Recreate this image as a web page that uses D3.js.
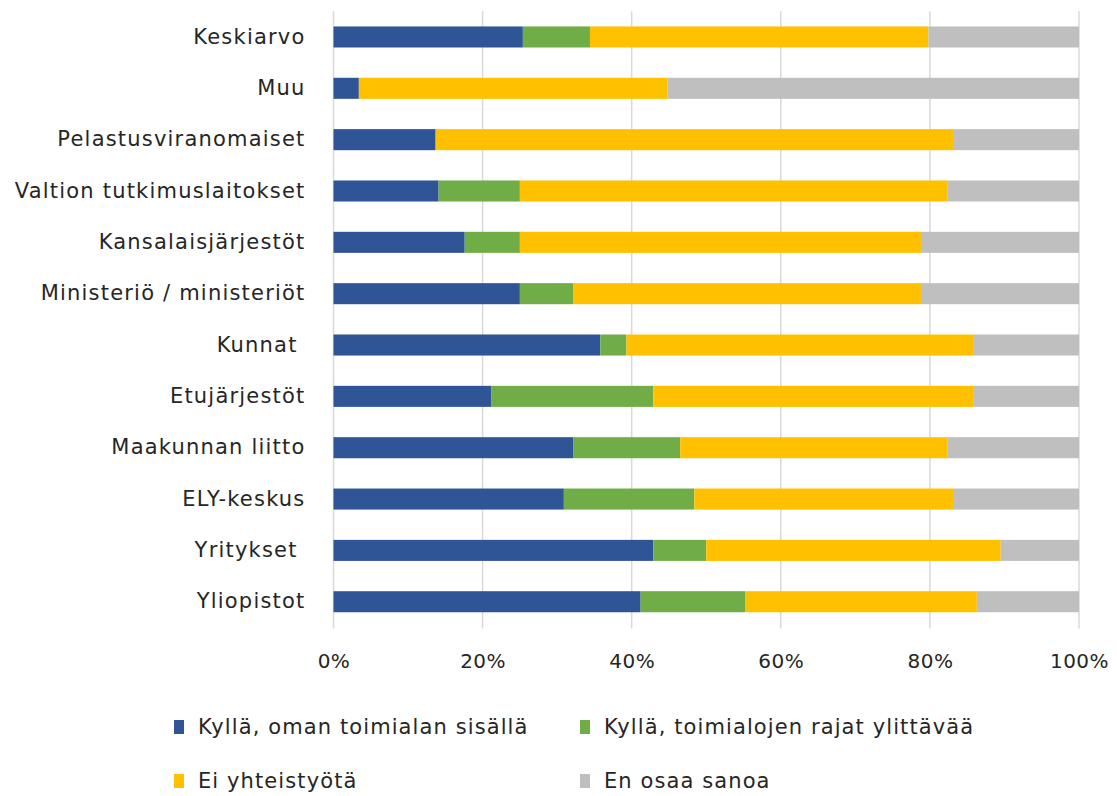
<!DOCTYPE html>
<html>
<head>
<meta charset="utf-8">
<script src="https://cdn.jsdelivr.net/npm/d3@7"></script>
<style>
body { margin: 0; background: #fff; }
text { font-family: "DejaVu Sans", sans-serif; fill: #262626; white-space: pre; }
</style>
</head>
<body>
<div id="chart"></div>
<script>
const width = 1117
const height = 796
const margin = { top: 11.3, left: 333.5, right: 38, bottom: 168.6 }

const categories = ["Keskiarvo", "Muu", "Pelastusviranomaiset", "Valtion tutkimuslaitokset", "Kansalaisjärjestöt",
    "Ministeriö / ministeriöt", "Kunnat ", "Etujärjestöt", "Maakunnan liitto", "ELY-keskus", "Yritykset ", "Yliopistot"]
const seriesNames = ["Kyllä, oman toimialan sisällä", "Kyllä, toimialojen rajat ylittävää", "Ei yhteistyötä", "En osaa sanoa"]
const colors = ["#2F5597", "#70AD47", "#FFC000", "#BFBFBF"]

// percentages per category, same order as categories
const omanSisalla = [25.4, 3.4, 13.7, 14.1, 17.6, 25.0, 35.8, 21.2, 32.2, 30.9, 42.9, 41.2]
const rajatYlittava = [9.0, 0, 0, 10.9, 7.4, 7.2, 3.5, 21.7, 14.3, 17.5, 7.1, 14.0]
const eiYhteistyota = [45.4, 41.4, 69.4, 57.4, 53.8, 46.6, 46.6, 43.0, 35.9, 34.7, 39.5, 31.1]
const enOsaa = [20.2, 55.2, 16.9, 17.6, 21.2, 21.2, 14.1, 14.1, 17.6, 16.9, 10.5, 13.7]
const xTicks = [0, 20, 40, 60, 80, 100]

const data = categories.map((c, i) => ({
    name: c,
    [seriesNames[0]]: omanSisalla[i],
    [seriesNames[1]]: rajatYlittava[i],
    [seriesNames[2]]: eiYhteistyota[i],
    [seriesNames[3]]: enOsaa[i]
}))

const svg = d3.select("div#chart").append("svg").attr("width", width).attr("height", height)

const x = d3.scaleLinear().domain([0, 100]).range([margin.left, width - margin.right])
const y = d3.scaleBand().domain(categories).range([margin.top, height - margin.bottom])
    .paddingInner(0.59).paddingOuter(0.295)

// gridlines
svg.append("g").selectAll("line").data(xTicks).join("line")
    .attr("x1", d => x(d)).attr("x2", d => x(d))
    .attr("y1", margin.top).attr("y2", height - margin.bottom + 1)
    .attr("stroke", "#d9d9d9").attr("stroke-width", 1.5)

const stack = d3.stack().keys(seriesNames)
const layers = stack(data)

svg.append("g").selectAll("g").data(layers).join("g")
    .attr("fill", (d, i) => colors[i])
    .selectAll("rect").data(d => d).join("rect")
    .attr("x", d => x(d[0]))
    .attr("width", d => x(d[1]) - x(d[0]))
    .attr("y", d => y(d.data.name))
    .attr("height", y.bandwidth())

// category labels
const yAxis = d3.axisLeft(y).tickSize(0).tickPadding(28)
svg.append("g").attr("transform", `translate(${margin.left}, 0)`).call(yAxis)
    .call(g => g.select(".domain").remove())
    .selectAll("text").style("font-size", "21px").style("letter-spacing", "1.2px")
    .style("font-family", "DejaVu Sans").attr("fill", "#262626")

// x tick labels
const xAxis = d3.axisBottom(x).tickValues(xTicks).tickFormat(d => d + "%").tickSize(0).tickPadding(0)
svg.append("g").attr("transform", `translate(0, 654)`).call(xAxis)
    .call(g => g.select(".domain").remove())
    .selectAll("text").style("font-size", "20px").style("letter-spacing", "0.5px")
    .style("font-family", "DejaVu Sans").attr("fill", "#262626")

// legend
const legendPos = [[174, 727], [580, 727], [174, 781], [580, 781]]
const legend = svg.append("g").selectAll("g").data(seriesNames).join("g")
    .attr("transform", (d, i) => `translate(${legendPos[i][0]}, ${legendPos[i][1]})`)
legend.append("rect").attr("x", 0).attr("y", -7).attr("width", 10).attr("height", 14)
    .attr("fill", (d, i) => colors[i])
legend.append("text").attr("x", 24).attr("y", 0).attr("dominant-baseline", "central")
    .style("font-size", "21px").style("letter-spacing", "1.1px")
    .text(d => d)
</script>
</body>
</html>
